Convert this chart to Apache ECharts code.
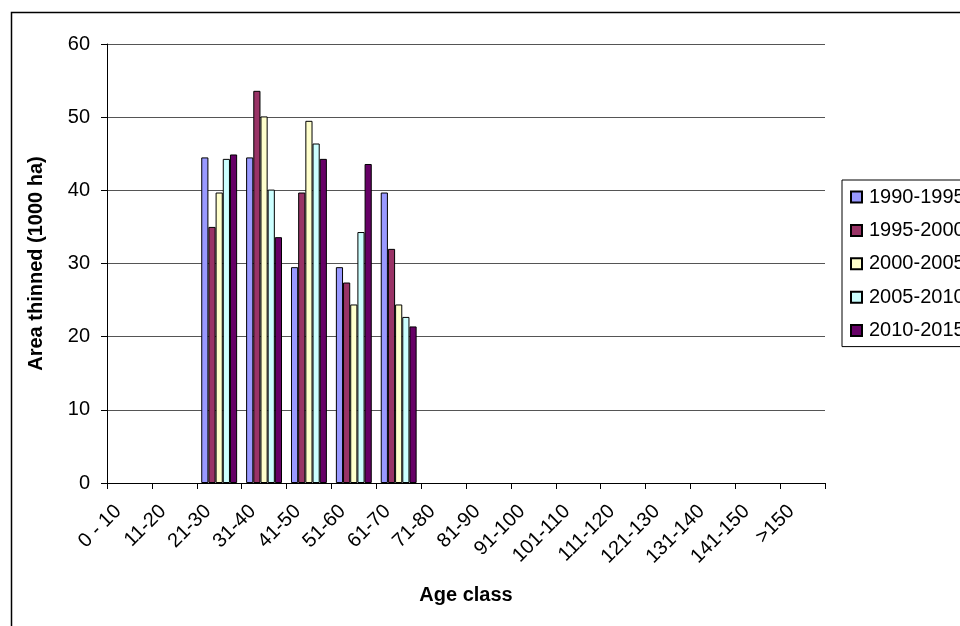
<!DOCTYPE html>
<html>
<head>
<meta charset="utf-8">
<script src="https://cdn.jsdelivr.net/npm/echarts@6/dist/echarts.min.js"></script>
<style>
html,body{margin:0;padding:0;background:#fff;}
#chart{width:960px;height:626px;}
</style>
</head>
<body>
<div id="chart"></div>
<script>
const categories = ['0 - 10','11-20','21-30','31-40','41-50','51-60','61-70','71-80','81-90','91-100','101-110','111-120','121-130','131-140','141-150','>150'];
const seriesNames = ['1990-1995','1995-2000','2000-2005','2005-2010','2010-2015'];
const s1990_1995 = [null,null,44.5,44.5,29.5,29.5,39.7,null,null,null,null,null,null,null,null,null];
const s1995_2000 = [null,null,35.0,53.6,39.7,27.4,32.0,null,null,null,null,null,null,null,null,null];
const s2000_2005 = [null,null,39.7,50.1,49.5,24.4,24.4,null,null,null,null,null,null,null,null,null];
const s2005_2010 = [null,null,44.3,40.1,46.4,34.3,22.7,null,null,null,null,null,null,null,null,null];
const s2010_2015 = [null,null,44.9,33.6,44.3,43.6,21.4,null,null,null,null,null,null,null,null,null];
const yTicks = {min:0, max:60, interval:10};
const colors = ['#9999FF','#993366','#FFFFCC','#CCFFFF','#660066'];

const allData = [s1990_1995,s1995_2000,s2000_2005,s2005_2010,s2010_2015];
const FONT = 'Liberation Sans, Arial, sans-serif';

const chart = echarts.init(document.getElementById('chart'), null, {renderer:'canvas'});
chart.setOption({
  animation:false,
  backgroundColor:'#fff',
  color: colors,
  graphic:[{
    type:'rect', left:9, top:10, shape:{width:1200, height:1200},
    style:{fill:'none', stroke:'#000', lineWidth:1.5}, silent:true, z:-1
  }],
  grid:{left:107, right:135, top:44, bottom:143},
  legend:{
    orient:'vertical', left:842, top:180,
    borderColor:'#000', borderWidth:1, padding:[7,40,6,8],
    itemWidth:11, itemHeight:11, itemGap:13.4,
    icon:'rect',
    textStyle:{fontFamily:FONT, fontSize:20, color:'#000', lineHeight:20, padding:[0,0,0,2]},
    data: seriesNames
  },
  xAxis:{
    type:'category', data:categories,
    name:'Age class', nameLocation:'middle', nameGap:102,
    nameTextStyle:{fontFamily:FONT, fontSize:20, fontWeight:'bold', color:'#000'},
    axisLine:{lineStyle:{color:'#000', width:1}},
    axisTick:{show:true, alignWithLabel:false, length:6, lineStyle:{color:'#000'}},
    axisLabel:{rotate:45, interval:0, fontFamily:FONT, fontSize:20, color:'#000', margin:14, padding:[0,16,0,0]}
  },
  yAxis:{
    type:'value', min:yTicks.min, max:yTicks.max, interval:yTicks.interval,
    name:'Area thinned (1000 ha)', nameLocation:'middle', nameGap:61,
    nameTextStyle:{fontFamily:FONT, fontSize:20, fontWeight:'bold', color:'#000'},
    axisLine:{show:true, lineStyle:{color:'#000', width:1}},
    axisTick:{show:true, length:6, lineStyle:{color:'#000'}},
    axisLabel:{fontFamily:FONT, fontSize:20, color:'#000', margin:17},
    splitLine:{show:true, lineStyle:{color:'#555', width:1}}
  },
  series: allData.map((d,i)=>({
    name: seriesNames[i], type:'bar', data:d,
    barGap:'0%', barCategoryGap:'20%',
    itemStyle:{color:colors[i], borderColor:'#000', borderWidth:1}
  }))
});
</script>
</body>
</html>
